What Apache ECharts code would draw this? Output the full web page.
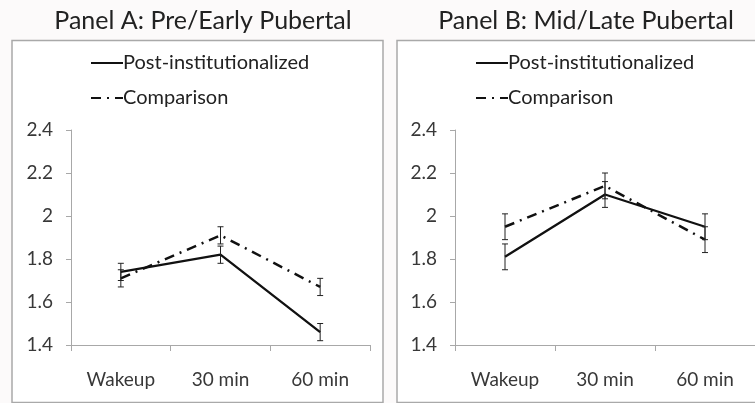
<!DOCTYPE html>
<html>
<head>
<meta charset="utf-8">
<script src="https://cdn.jsdelivr.net/npm/echarts@6/dist/echarts.min.js"></script>
<style>
html,body{margin:0;padding:0;background:#fcfafa;}
#main{width:755px;height:403px;}
</style>
</head>
<body>
<div id="main"></div>
<script>
var categories = ['Wakeup', '30 min', '60 min'];
var panelTitles = ['Panel A: Pre/Early Pubertal', 'Panel B: Mid/Late Pubertal'];
var seriesNames = ['Post-institutionalized', 'Comparison'];

var postA = [1.74, 1.82, 1.46];
var postAErr = [0.04, 0.04, 0.04];
var compA = [1.71, 1.91, 1.67];
var compAErr = [0.04, 0.04, 0.04];

var postB = [1.81, 2.10, 1.95];
var postBErr = [0.06, 0.06, 0.06];
var compB = [1.95, 2.14, 1.89];
var compBErr = [0.06, 0.06, 0.06];

var FONT = 'Lato';
var chart = echarts.init(document.getElementById('main'));

function errData(vals, errs) {
  return vals.map(function (v, i) { return [i, v - errs[i], v + errs[i]]; });
}
function errSeries(idx, vals, errs) {
  return {
    type: 'custom',
    xAxisIndex: idx, yAxisIndex: idx,
    silent: true, z: 5,
    data: errData(vals, errs),
    renderItem: function (params, api) {
      var x = api.value(0);
      var lo = api.coord([x, api.value(1)]);
      var hi = api.coord([x, api.value(2)]);
      var cw = 3;
      var st = { stroke: '#222', lineWidth: 1 };
      return {
        type: 'group',
        children: [
          { type: 'line', shape: { x1: lo[0], y1: lo[1], x2: hi[0], y2: hi[1] }, style: st },
          { type: 'line', shape: { x1: lo[0] - cw, y1: lo[1], x2: lo[0] + cw, y2: lo[1] }, style: st },
          { type: 'line', shape: { x1: hi[0] - cw, y1: hi[1], x2: hi[0] + cw, y2: hi[1] }, style: st }
        ]
      };
    }
  };
}
function lineSeries(idx, name, vals, dashed) {
  return {
    type: 'line', name: name,
    xAxisIndex: idx, yAxisIndex: idx,
    data: vals, symbol: 'none', z: 4,
    lineStyle: { color: '#111', width: dashed ? 2.5 : 2.3, type: dashed ? [10, 6, 2, 6] : 'solid' },
    itemStyle: { color: '#111' }
  };
}
function xAxis(idx) {
  return {
    type: 'category', gridIndex: idx, data: categories,
    axisLine: { lineStyle: { color: '#a8a8a8', width: 1 } },
    axisTick: { show: true, length: 6, lineStyle: { color: '#a8a8a8' } },
    axisLabel: { color: '#383838', fontSize: 19, fontFamily: FONT, margin: 25 }
  };
}
function yAxis(idx) {
  return {
    type: 'value', gridIndex: idx, min: 1.4, max: 2.4, interval: 0.2,
    axisLine: { show: true, lineStyle: { color: '#a8a8a8', width: 1 } },
    axisTick: { show: true, length: 5, lineStyle: { color: '#a8a8a8' } },
    splitLine: { show: false },
    axisLabel: { color: '#383838', fontSize: 19, fontFamily: FONT, margin: 18,
      formatter: function (v) { return String(+v.toFixed(1)); } }
  };
}
function legend(left) {
  return {
    left: left, top: 48, orient: 'vertical', itemGap: 15,
    itemWidth: 32, itemHeight: 14, selectedMode: false,
    data: seriesNames,
    itemStyle: { color: 'rgba(0,0,0,0)', borderWidth: 0 },
    textStyle: { color: '#222', fontSize: 20, fontFamily: FONT, padding: [0, 0, 0, -5] }
  };
}

chart.setOption({
  backgroundColor: '#fcfafa',
  animation: false,
  graphic: [
    { type: 'rect', shape: { x: 12, y: 40.5, width: 371, height: 362 }, style: { fill: '#fff', stroke: '#a9a9a9', lineWidth: 1.5 }, z: -10 },
    { type: 'rect', shape: { x: 397, y: 40.5, width: 370, height: 362 }, style: { fill: '#fff', stroke: '#a9a9a9', lineWidth: 1.5 }, z: -10 }
  ],
  title: [
    { text: panelTitles[0], left: 198, top: 3, textAlign: 'center', textStyle: { fontFamily: FONT, fontSize: 25, fontWeight: 'normal', color: '#222' } },
    { text: panelTitles[1], left: 581, top: 3, textAlign: 'center', textStyle: { fontFamily: FONT, fontSize: 25, fontWeight: 'normal', color: '#222' } }
  ],
  legend: [legend(85), legend(470)],
  grid: [
    { left: 71, top: 130, width: 299, height: 215 },
    { left: 455, top: 130, width: 300, height: 215 }
  ],
  xAxis: [xAxis(0), xAxis(1)],
  yAxis: [yAxis(0), yAxis(1)],
  series: [
    lineSeries(0, seriesNames[0], postA, false),
    lineSeries(0, seriesNames[1], compA, true),
    errSeries(0, postA, postAErr),
    errSeries(0, compA, compAErr),
    lineSeries(1, seriesNames[0], postB, false),
    lineSeries(1, seriesNames[1], compB, true),
    errSeries(1, postB, postBErr),
    errSeries(1, compB, compBErr)
  ]
});
</script>
</body>
</html>
